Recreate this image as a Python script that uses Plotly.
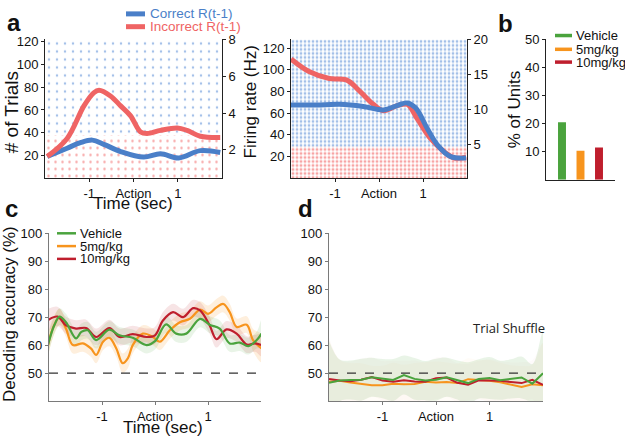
import plotly.graph_objects as go

W, H = 625, 436
FONT = "Liberation Sans, Arial, Helvetica, sans-serif"

# ---------------- Panel a (left neuron) ----------------
a1_red_t = [-1.95, -1.5, -1.12, -0.9, -0.78, -0.52, -0.29, -0.07, 0.16, 0.31, 0.61, 0.99, 1.21, 1.51, 1.96]
a1_red_fr = [1.64, 2.62, 4.39, 5.1, 5.24, 4.93, 4.39, 3.86, 2.97, 2.89, 3.06, 3.19, 3.06, 2.74, 2.67]
a1_blue_t = [-1.95, -1.5, -1.2, -0.93, -0.67, -0.29, 0.23, 0.61, 1.02, 1.51, 1.96]
a1_blue_fr = [1.64, 2.09, 2.39, 2.53, 2.3, 1.91, 1.61, 1.79, 1.56, 1.96, 1.86]

# ---------------- Panel a (right neuron) ----------------
a2_red_t = [-2.0, -1.59, -1.13, -0.74, -0.44, -0.13, 0.1, 0.41, 0.64, 0.87, 1.17, 1.48, 1.71, 1.98]
a2_red_fr = [17.2, 15.4, 14.4, 14.2, 12.6, 10.7, 9.77, 10.5, 10.7, 8.6, 5.8, 3.9, 3.0, 3.1]
a2_blue_t = [-2.0, -1.43, -0.9, -0.36, 0.1, 0.41, 0.64, 0.83, 1.1, 1.33, 1.63, 1.98]
a2_blue_fr = [10.6, 10.6, 10.7, 10.4, 9.9, 10.5, 10.9, 10.2, 7.2, 4.86, 3.2, 3.0]

# raster: trial blocks (incorrect trials at bottom, correct above) and spike density per time bin
raster_bins = [-2.0, -1.5, -1.0, -0.5, 0.0, 0.5, 1.0, 1.5, 2.0]
a1_incorrect_trials = [0, 38]
a1_correct_trials = [38, 122]
a1_incorrect_density = [0.10, 0.13, 0.15, 0.13, 0.11, 0.10, 0.10, 0.10]
a1_correct_density = [0.075, 0.085, 0.085, 0.075, 0.07, 0.065, 0.075, 0.07]
a2_incorrect_trials = [0, 29]
a2_correct_trials = [29, 128]
a2_incorrect_density = [0.44, 0.44, 0.44, 0.44, 0.44, 0.44, 0.42, 0.40]
a2_correct_density = [0.38, 0.38, 0.38, 0.36, 0.34, 0.29, 0.18, 0.13]

# ---------------- Panel b ----------------
groups = ["Vehicle", "5mg/kg", "10mg/kg"]
pct_units = [20.5, 10.3, 11.5]

# ---------------- Panel c ----------------
c_veh_t = [-2.03, -1.9, -1.8, -1.68, -1.49, -1.39, -1.27, -1.11, -0.86, -0.67, -0.42, -0.16, 0.0, 0.21, 0.4, 0.59, 0.85, 1.03, 1.22, 1.41, 1.6, 1.76, 1.92, 2.01]
c_veh = [59.4, 67.1, 70.2, 68.2, 62.4, 64.7, 65.3, 61.8, 65.5, 63.5, 62.6, 60.0, 61.4, 67.4, 64.1, 64.1, 69.4, 67.3, 65.9, 60.6, 60.9, 59.6, 61.8, 64.1]
c_veh_sem = [4, 3, 3, 3, 3, 3, 3, 3, 3, 3, 3, 3, 3, 3, 3, 3, 3, 3, 3, 3, 3, 3, 3, 5]
c_5_t = [-2.03, -1.93, -1.8, -1.68, -1.55, -1.36, -1.21, -1.11, -0.98, -0.86, -0.73, -0.61, -0.51, -0.42, -0.23, -0.04, 0.09, 0.28, 0.47, 0.66, 0.85, 1.0, 1.16, 1.29, 1.41, 1.54, 1.73, 1.85, 2.01]
c_5 = [58.8, 65.9, 70.0, 65.9, 60.0, 60.6, 58.8, 56.5, 61.2, 62.6, 58.8, 53.5, 55.3, 60.0, 64.1, 62.9, 61.2, 65.3, 68.2, 69.4, 72.7, 71.2, 73.5, 74.7, 71.8, 66.5, 67.3, 61.8, 58.8]
c_5_sem = [4, 3.5, 3, 3, 3, 3, 3, 3, 3, 3, 3, 3.5, 3.5, 3, 3, 3, 3, 3, 3, 3, 3, 3, 3, 3, 3, 3, 3, 4, 5]
c_10_t = [-2.03, -1.84, -1.68, -1.49, -1.3, -1.11, -0.86, -0.67, -0.42, -0.16, 0.0, 0.15, 0.34, 0.53, 0.72, 0.85, 1.03, 1.16, 1.35, 1.54, 1.73, 1.89, 2.01]
c_10 = [68.8, 70.2, 67.1, 65.9, 66.1, 62.9, 66.1, 62.9, 63.9, 62.9, 63.5, 68.8, 71.8, 70.0, 73.2, 72.4, 67.1, 62.1, 65.6, 64.1, 60.2, 60.6, 60.0]
c_10_sem = [4, 3.5, 3, 3, 3, 3, 3, 3, 3, 3, 3, 3, 3, 3, 3, 3, 3, 3, 3, 3, 3, 3, 4]

# ---------------- Panel d (trial shuffle) ----------------
d_t = [-2.0, -1.8, -1.6, -1.4, -1.2, -1.0, -0.8, -0.6, -0.4, -0.2, 0.0, 0.2, 0.4, 0.6, 0.8, 1.0, 1.2, 1.4, 1.6, 1.8, 2.0]
d_veh = [46.5, 47.3, 47.5, 47.6, 48.5, 48.0, 47.5, 49.3, 47.9, 47.3, 47.6, 48.5, 47.5, 46.4, 47.9, 48.2, 47.4, 47.9, 48.4, 46.2, 49.9]
d_5 = [46.9, 47.2, 46.6, 46.0, 45.6, 45.6, 46.2, 46.0, 46.1, 46.9, 46.6, 46.8, 46.4, 47.8, 47.6, 47.2, 46.7, 45.8, 45.0, 46.0, 45.6]
d_10 = [47.9, 47.3, 47.1, 47.6, 48.6, 47.3, 46.9, 47.4, 47.0, 46.9, 48.1, 48.4, 46.5, 45.8, 47.4, 47.4, 47.2, 46.8, 46.4, 47.6, 45.8]
d_sem = [15, 7.5, 7, 7.5, 7, 7, 7.5, 7, 7.5, 7, 7.5, 7, 7, 7.5, 7, 7.5, 7, 7, 7.5, 7, 15]

chance = 50
time_ticks = [-1, 0, 1]
time_ticktext = ["-1", "Action", "1"]

BLUE = "#4a7fc8"
RED_A = "#ef6464"
BLUE_DOT = "#4a82d2"
RED_DOT = "#f04c4c"
GREEN = "#4aa33d"
ORANGE = "#f7941d"
RED = "#bf1e2d"


def rgba(h, a):
    h = h.lstrip("#")
    return "rgba(%d,%d,%d,%s)" % (int(h[0:2], 16), int(h[2:4], 16), int(h[4:6], 16), a)


fig = go.Figure()


def raster(xa, ya, trials, dens, color, cell):
    for i in range(len(dens)):
        t0, t1 = raster_bins[i], raster_bins[i + 1]
        lo, hi = trials
        fig.add_trace(go.Scatter(
            x=[t0, t1, t1, t0, t0], y=[lo, lo, hi, hi, lo], xaxis=xa, yaxis=ya,
            mode="lines", line=dict(width=0), fill="toself", fillcolor="rgba(0,0,0,0)",
            fillpattern=dict(shape=".", fgcolor=color, bgcolor="rgba(0,0,0,0)",
                             size=cell, solidity=dens),
            hoverinfo="skip", showlegend=False))


raster("x", "y", a1_incorrect_trials, a1_incorrect_density, RED_DOT, 7)
raster("x", "y", a1_correct_trials, a1_correct_density, BLUE_DOT, 8)
raster("x2", "y3", a2_incorrect_trials, a2_incorrect_density, RED_DOT, 4)
raster("x2", "y3", a2_correct_trials, a2_correct_density, BLUE_DOT, 4)

# firing-rate curves
fig.add_trace(go.Scatter(x=a1_blue_t, y=a1_blue_fr, xaxis="x", yaxis="y2", mode="lines",
                         line=dict(color=BLUE, width=5, shape="spline", smoothing=1.0)))
fig.add_trace(go.Scatter(x=a1_red_t, y=a1_red_fr, xaxis="x", yaxis="y2", mode="lines",
                         line=dict(color=RED_A, width=5, shape="spline", smoothing=1.0)))
fig.add_trace(go.Scatter(x=a2_red_t, y=a2_red_fr, xaxis="x2", yaxis="y4", mode="lines",
                         line=dict(color=RED_A, width=5, shape="spline", smoothing=1.0)))
fig.add_trace(go.Scatter(x=a2_blue_t, y=a2_blue_fr, xaxis="x2", yaxis="y4", mode="lines",
                         line=dict(color=BLUE, width=5, shape="spline", smoothing=1.0)))

# panel b bars
fig.add_trace(go.Bar(x=[0, 1, 2], y=pct_units, width=0.43, xaxis="x3", yaxis="y5",
                     marker=dict(color=[GREEN, ORANGE, RED], line=dict(width=0))))


# panel c and d bands + lines
def band(t, m, s, color, xa, ya, alpha):
    up = [a + b for a, b in zip(m, s)]
    lo = [a - b for a, b in zip(m, s)]
    fig.add_trace(go.Scatter(x=t + t[::-1], y=up + lo[::-1], xaxis=xa, yaxis=ya, mode="lines",
                             line=dict(width=0, shape="spline"), fill="toself",
                             fillcolor=rgba(color, alpha), hoverinfo="skip"))


band(c_5_t, c_5, c_5_sem, ORANGE, "x4", "y6", 0.15)
band(c_10_t, c_10, c_10_sem, RED, "x4", "y6", 0.12)
band(c_veh_t, c_veh, c_veh_sem, GREEN, "x4", "y6", 0.12)
for t, m, col in [(c_5_t, c_5, ORANGE), (c_10_t, c_10, RED), (c_veh_t, c_veh, GREEN)]:
    fig.add_trace(go.Scatter(x=t, y=m, xaxis="x4", yaxis="y6", mode="lines",
                             line=dict(color=col, width=2.2, shape="spline", smoothing=1.0)))

band(d_t, d_5, d_sem, ORANGE, "x5", "y7", 0.03)
band(d_t, d_10, d_sem, RED, "x5", "y7", 0.02)
band(d_t, d_veh, d_sem, GREEN, "x5", "y7", 0.12)
for m, col in [(d_5, ORANGE), (d_10, RED), (d_veh, GREEN)]:
    fig.add_trace(go.Scatter(x=d_t, y=m, xaxis="x5", yaxis="y7", mode="lines",
                             line=dict(color=col, width=2)))


def xd(a, b):
    return [a / W, b / W]


def yd(top, bottom):
    return [1 - bottom / H, 1 - top / H]


tickfont = dict(family=FONT, size=13, color="#111")
common = dict(showgrid=False, zeroline=False, showline=True, ticks="outside", ticklen=3,
              tickwidth=1, tickfont=tickfont)
blk = dict(linecolor="#222", tickcolor="#222", linewidth=1)
gry = dict(linecolor="#7a7a7a", tickcolor="#7a7a7a", linewidth=1.2)

layout = dict(
    width=W, height=H, margin=dict(l=0, r=0, t=0, b=0),
    paper_bgcolor="white", plot_bgcolor="white", showlegend=False,
    font=dict(family=FONT, color="#111"),
    xaxis=dict(domain=xd(45, 222), anchor="y", range=[-2, 2], tickvals=time_ticks,
               ticktext=time_ticktext, **common, **blk),
    yaxis=dict(domain=yd(33, 174), anchor="x", range=[0, 122], tickvals=[20, 40, 60, 80, 100, 120],
               **common, **blk),
    yaxis2=dict(overlaying="y", anchor="x", side="right", range=[0.46, 8.0], tickvals=[2, 4, 6, 8],
                **common, **blk),
    xaxis2=dict(domain=xd(291, 467), anchor="y3", range=[-2, 2], tickvals=time_ticks,
                ticktext=time_ticktext, **common, **blk),
    yaxis3=dict(domain=yd(33, 174), anchor="x2", range=[0, 128], tickvals=[20, 40, 60, 80, 100, 120],
                **common, **blk),
    yaxis4=dict(overlaying="y3", anchor="x2", side="right", range=[0.1, 20], tickvals=[5, 10, 15, 20],
                **common, **blk),
    xaxis3=dict(domain=xd(546, 615), anchor="y5", range=[-0.865, 2.865], showgrid=False, zeroline=False,
                showline=True, showticklabels=False, ticks="", **blk),
    yaxis5=dict(domain=yd(33, 175.5), anchor="x3", range=[0, 50], tickvals=[10, 20, 30, 40, 50],
                **common, **blk),
    xaxis4=dict(domain=xd(49, 261), anchor="y6", range=[-2, 2], tickvals=time_ticks,
                ticktext=time_ticktext, **common, **gry),
    yaxis6=dict(domain=yd(230, 400.4), anchor="x4", range=[40, 100], tickvals=[50, 60, 70, 80, 90, 100],
                **common, **gry),
    xaxis5=dict(domain=xd(329, 543), anchor="y7", range=[-2, 2], tickvals=time_ticks,
                ticktext=time_ticktext, **common, **gry),
    yaxis7=dict(domain=yd(230, 400.4), anchor="x5", range=[40, 100], tickvals=[50, 60, 70, 80, 90, 100],
                **common, **gry),
)

shapes = [
    dict(type="line", xref="x4 domain", yref="y6", x0=0, x1=1, y0=chance, y1=chance,
         line=dict(color="#333", width=1.2, dash="dash")),
    dict(type="line", xref="x5 domain", yref="y7", x0=0, x1=1, y0=chance, y1=chance,
         line=dict(color="#333", width=1.2, dash="dash")),
]
annotations = []


def txt(x, y, s, size, color="#111", bold=False, angle=0, xanchor="center", family=FONT):
    annotations.append(dict(x=x / W, y=1 - y / H, xref="paper", yref="paper", text=("<b>%s</b>" % s) if bold else s,
                            showarrow=False, font=dict(family=family, size=size, color=color),
                            textangle=angle, xanchor=xanchor, yanchor="middle"))


def legend_key(x0, x1, y, color, width):
    shapes.append(dict(type="line", xref="paper", yref="paper", x0=x0 / W, x1=x1 / W,
                       y0=1 - y / H, y1=1 - y / H, line=dict(color=color, width=width)))


# panel a legend
for (lab, col), yy in zip([("Correct R(t-1)", BLUE), ("Incorrect R(t-1)", RED_A)], [7, 20]):
    legend_key(126, 145, yy, col, 5)
    txt(148, yy, lab, 13.5, color=col, xanchor="left")
# panel b legend
for lab, col, yy in zip(groups, [GREEN, ORANGE, RED], [29, 43, 56]):
    legend_key(555, 572, yy, col, 3.5)
    txt(574, yy, lab, 13, xanchor="left")
# panel c legend
for lab, col, yy in zip(groups, [GREEN, ORANGE, RED], [230, 243, 256]):
    legend_key(57, 76, yy, col, 2.5)
    txt(78, yy, lab, 13, xanchor="left")

# titles
txt(11, 107, "# of Trials", 19, angle=-90)
txt(250, 97, "Firing rate (Hz)", 17, angle=-90)
txt(133, 200, "Time (sec)", 17)
txt(514, 105, "% of Units", 17, angle=-90)
txt(10, 312, "Decoding accuracy (%)", 17, angle=-90)
txt(163, 427.5, "Time (sec)", 17)
txt(509, 326, "Trial Shuffle", 13, color="#222", family="Open Sans, Lato, sans-serif")

# panel letters
txt(14, 16, "a", 24, bold=True)
txt(505, 17, "b", 24, bold=True)
txt(11, 205, "c", 24, bold=True)
txt(305, 205, "d", 24, bold=True)

layout["shapes"] = shapes
layout["annotations"] = annotations
fig.update_layout(**layout)
post = ("document.documentElement.style.margin='0';document.body.style.margin='0';"
        "document.body.style.padding='0';"
        "var g=document.querySelector('.plotly-graph-div');"
        "g.style.position='fixed';g.style.top='0px';g.style.left='0px';")
fig.write_html("out.html", config={"displayModeBar": False}, post_script=post)
